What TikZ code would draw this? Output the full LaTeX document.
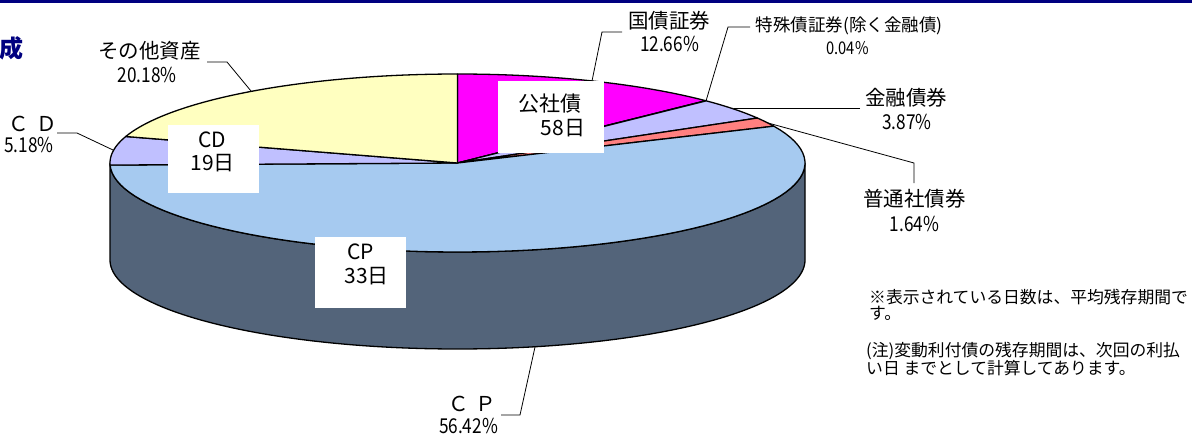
\documentclass[tikz,border=0pt]{standalone}
\usepackage{fontspec}
\usepackage{graphicx}
\setmainfont{Noto Sans CJK JP}
\definecolor{navyline}{RGB}{0,0,128}
\definecolor{navytitle}{RGB}{0,0,128}
\definecolor{cpTop}{RGB}{166,202,240}
\definecolor{cpSide}{RGB}{83,100,122}
\definecolor{otherY}{RGB}{255,255,192}
\definecolor{lav}{RGB}{192,192,255}
\definecolor{pinkS}{RGB}{255,128,128}
\definecolor{mag}{RGB}{255,0,255}
\newcommand\narrowpct[1]{\scalebox{0.84}[1]{#1}}
\tikzset{
  lbl/.style={font=\fontsize{20.5}{23.5}\selectfont, inner sep=0pt},
  lblsmall/.style={font=\fontsize{17.5}{21}\selectfont, inner sep=0pt},
  daybox/.style={fill=white, inner sep=0pt},
  daytxt/.style={font=\fontsize{21}{25}\selectfont, inner sep=0pt},
  leader/.style={draw=black, line width=0.8pt},
  slice/.style={draw=black, line width=1.3pt, line join=round},
  note/.style={font=\fontsize{16.8}{16.5}\selectfont, align=left, inner sep=0pt, anchor=west}
}
\def\cx{457.5}
\def\cy{163}
\def\ra{347.5}
\def\rb{89}
\def\hh{97}
\newcommand\pieSlice[3]{%
  \filldraw[slice, fill=#3] (\cx,\cy) -- plot[domain=#1:#2, samples=80, variable=\q] ({\cx+\ra*sin(\q)},{\cy-\rb*cos(\q)}) -- cycle;}
\begin{document}
\begin{tikzpicture}[x=1pt,y=-1pt]
\useasboundingbox (0,0) rectangle (1192,434);
\fill[white] (0,0) rectangle (1192,434);
% top rule and cut title
\fill[navyline] (0,0) rectangle (1192,2.5);
\node[font=\fontsize{24}{24}\selectfont\bfseries, text=navytitle, inner sep=0pt] (title) at (11,48) {成};
% side of the pie (CP)
\filldraw[slice, fill=cpSide] ({\cx+\ra},\cy) -- ({\cx+\ra},{\cy+\hh})
  -- plot[domain=90:270, samples=120, variable=\q] ({\cx+\ra*sin(\q)},{\cy+\hh-\rb*cos(\q)})
  -- ({\cx-\ra},\cy)
  -- plot[domain=270:90, samples=120, variable=\q] ({\cx+\ra*sin(\q)},{\cy-\rb*cos(\q)}) -- cycle;
% top face slices
\pieSlice{0}{45.576}{mag}
\pieSlice{45.576}{45.72}{lav}
\pieSlice{45.72}{59.652}{lav}
\pieSlice{59.652}{65.556}{pinkS}
\pieSlice{65.556}{268.668}{cpTop}
\pieSlice{268.668}{287.316}{lav}
\pieSlice{287.316}{360}{otherY}
% day boxes
\node[daybox, minimum width=106pt, minimum height=72pt] (kbox) at (551,117) {};
\node[daytxt] (kname) at (550,104) {公社債};
\node[daytxt] (kdays) at (563,128.5) {58日};
\node[daybox, minimum width=91pt, minimum height=68pt] (cdbox) at (213.5,159) {};
\node[daytxt] (cdname) at (212.5,139.5) {CD};
\node[daytxt] (cddays) at (212.5,163.5) {19日};
\node[daybox, minimum width=91pt, minimum height=71pt] (cpbox) at (360.5,272.5) {};
\node[daytxt] (cpname) at (360.5,251.5) {CP};
\node[daytxt] (cpdays) at (366.5,276.5) {33日};
% labels
\node[lbl] (oname) at (149.5,51) {その他資産};
\node[lbl] (opct) at (147,74.5) {\narrowpct{20.18\%}};
\node[lbl] (cdlname) at (33,124) {Ｃ\hspace{7pt}Ｄ};
\node[lbl] (cdlpct) at (29,145) {\narrowpct{5.18\%}};
\node[lbl] (gname) at (669,20.5) {国債証券};
\node[lbl] (gpct) at (669.5,43.5) {\narrowpct{12.66\%}};
\node[lblsmall] (tname) at (849,25.5) {特殊債証券(除く金融債)};
\node[lblsmall] (tpct) at (847.5,48.5) {\narrowpct{0.04\%}};
\node[lbl] (kiname) at (906,97.5) {金融債券};
\node[lbl] (kipct) at (907,121.5) {\narrowpct{3.87\%}};
\node[lbl] (fname) at (914.5,199) {普通社債券};
\node[lbl] (fpct) at (914.5,223.5) {\narrowpct{1.64\%}};
\node[lbl] (cplname) at (472,404) {Ｃ\hspace{7pt}Ｐ};
\node[lbl] (cplpct) at (468.5,425.5) {\narrowpct{56.42\%}};
% leader coordinates
\coordinate (oA) at (207,62); \coordinate (oB) at (227,62); \coordinate (oP) at (251,91);
\coordinate (cA) at (57,133); \coordinate (cB) at (77,133); \coordinate (cP) at (113,150);
\coordinate (gA) at (622,32); \coordinate (gB) at (602,32); \coordinate (gP) at (592,81);
\coordinate (tA) at (750,27); \coordinate (tB) at (728,27); \coordinate (tP) at (706,101);
\coordinate (kA) at (860,108.5); \coordinate (kP) at (734,108.5);
\coordinate (fA) at (914,183); \coordinate (fB) at (914,163); \coordinate (fP) at (768,123);
\coordinate (pA) at (501,415); \coordinate (pB) at (520,415); \coordinate (pP) at (535,347);
\draw[leader] (oA) -- (oB) -- (oP);
\draw[leader] (cA) -- (cB) -- (cP);
\draw[leader] (gA) -- (gB) -- (gP);
\draw[leader] (tA) -- (tB) -- (tP);
\draw[leader] (kA) -- (kP);
\draw[leader] (fA) -- (fB) -- (fP);
\draw[leader] (pA) -- (pB) -- (pP);
% notes
\node[note] (note1) at (869,305) {※表示されている日数は、平均残存期間で\\す。};
\node[note] (note2) at (866,359) {(注)変動利付債の残存期間は、次回の利払\\い日 までとして計算してあります。};
\end{tikzpicture}
\end{document}
